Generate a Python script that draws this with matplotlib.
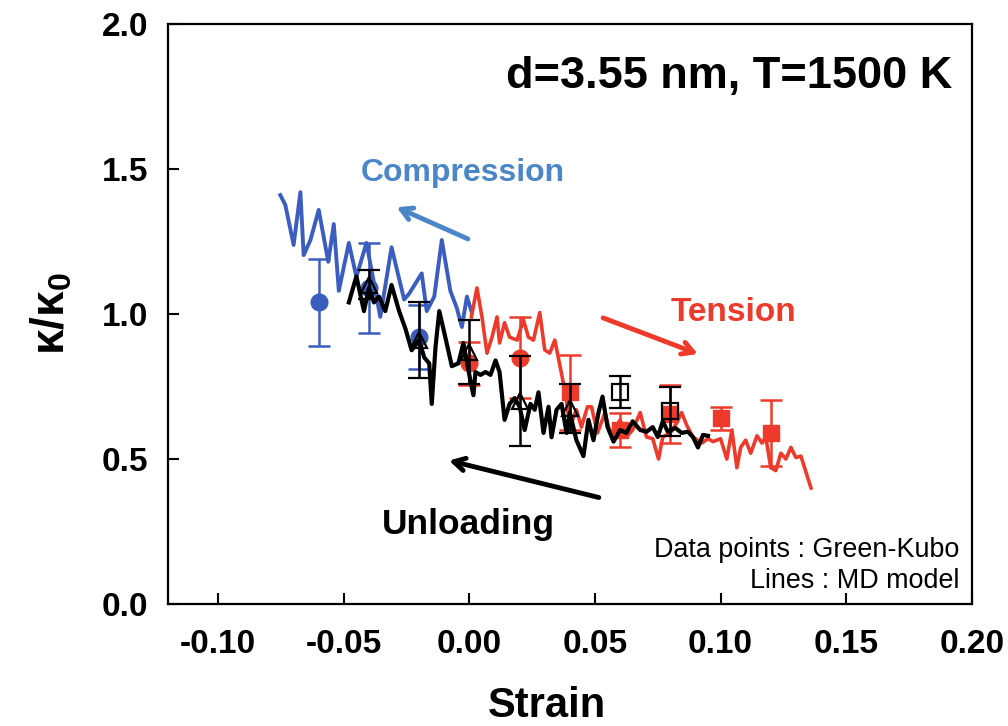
import matplotlib
matplotlib.use("Agg")
import matplotlib.pyplot as plt

plt.rcParams['font.family'] = ['Liberation Sans', 'DejaVu Sans']
plt.rcParams['mathtext.fontset'] = 'custom'
plt.rcParams['mathtext.bf'] = 'Liberation Sans:bold'
plt.rcParams['mathtext.rm'] = 'Liberation Sans'

# MD model lines (strain, kappa/kappa0)
comp_x = [-0.0753, -0.0733, -0.070, -0.0673, -0.066, -0.0633, -0.060, -0.0562, -0.054, -0.052,
          -0.048, -0.045, -0.041, -0.0355, -0.031, -0.026, -0.024, -0.019, -0.017, -0.014,
          -0.011, -0.0076, -0.005, -0.003, -0.001, 0.0008]
comp_y = [1.41, 1.376, 1.238, 1.42, 1.203, 1.255, 1.359, 1.18, 1.31, 1.08,
          1.245, 1.128, 1.245, 0.99, 1.23, 1.05, 1.07, 1.14, 1.01, 1.06,
          1.255, 1.08, 1.02, 0.955, 1.06, 1.01]

tens_x = [0.0008, 0.003, 0.005, 0.007, 0.009, 0.011, 0.012, 0.014, 0.016, 0.019,
          0.0215, 0.0235, 0.0255, 0.028, 0.030, 0.032, 0.034, 0.037, 0.0387, 0.040,
          0.0426, 0.0446, 0.047, 0.0486, 0.051, 0.054, 0.056, 0.058, 0.060, 0.0625,
          0.065, 0.068, 0.0705, 0.073, 0.0753, 0.077, 0.080, 0.0825, 0.0845, 0.0865,
          0.089, 0.0925, 0.095, 0.097, 0.100, 0.1025, 0.1045, 0.1065, 0.108, 0.110,
          0.112, 0.1145, 0.1165, 0.118, 0.120, 0.122, 0.124, 0.126, 0.128, 0.130,
          0.132, 0.136]
tens_y = [0.99, 1.09, 0.99, 0.865, 0.92, 0.99, 0.90, 0.97, 0.92, 0.91,
          0.98, 0.92, 0.91, 1.005, 0.876, 0.865, 0.91, 0.78, 0.70, 0.61,
          0.67, 0.61, 0.68, 0.68, 0.59, 0.66, 0.59, 0.605, 0.635, 0.576,
          0.60, 0.66, 0.576, 0.57, 0.50, 0.576, 0.59, 0.624, 0.66, 0.617,
          0.576, 0.555, 0.57, 0.56, 0.57, 0.50, 0.60, 0.47, 0.54, 0.565,
          0.52, 0.58, 0.555, 0.576, 0.47, 0.46, 0.52, 0.50, 0.54, 0.505,
          0.51, 0.40]

unl_x = [-0.048, -0.045, -0.042, -0.040, -0.038, -0.036, -0.0335, -0.031, -0.028, -0.0255,
         -0.023, -0.020, -0.018, -0.016, -0.015, -0.0135, -0.012, -0.0096, -0.007, -0.0044,
         -0.0024, 0.0004, 0.0016, 0.0024, 0.0044, 0.0064, 0.0084, 0.0104, 0.012, 0.014,
         0.016, 0.018, 0.020, 0.022, 0.0243, 0.026, 0.0275, 0.0295, 0.0315, 0.0327,
         0.0347, 0.0367, 0.0387, 0.040, 0.0426, 0.0454, 0.0474, 0.0494, 0.0514, 0.053,
         0.055, 0.0574, 0.060, 0.0625, 0.065, 0.068, 0.0705, 0.073, 0.075, 0.077,
         0.079, 0.082, 0.0845, 0.087, 0.089, 0.091, 0.093, 0.095]
unl_y = [1.04, 1.13, 1.01, 1.09, 1.04, 1.06, 1.01, 1.10, 1.01, 0.95,
         0.875, 0.91, 0.85, 0.83, 0.69, 0.886, 1.01, 0.92, 0.82, 0.83,
         0.90, 0.77, 0.72, 0.80, 0.79, 0.80, 0.79, 0.84, 0.80, 0.635,
         0.69, 0.71, 0.68, 0.60, 0.69, 0.67, 0.73, 0.59, 0.68, 0.575,
         0.67, 0.69, 0.59, 0.66, 0.565, 0.51, 0.635, 0.565, 0.66, 0.715,
         0.61, 0.56, 0.60, 0.59, 0.63, 0.60, 0.594, 0.61, 0.576, 0.63,
         0.594, 0.607, 0.59, 0.594, 0.576, 0.54, 0.583, 0.58]

# Green-Kubo data points
gk_comp_x = [-0.06, -0.04, -0.02]
gk_comp_y = [1.04, 1.09, 0.92]
gk_comp_err = [0.15, 0.155, 0.11]

gk_tens_circ_x = [0.00, 0.02]
gk_tens_circ_y = [0.83, 0.85]
gk_tens_circ_err = [0.075, 0.14]
gk_tens_sq_x = [0.04, 0.06, 0.08, 0.10, 0.12]
gk_tens_sq_y = [0.73, 0.60, 0.655, 0.64, 0.59]
gk_tens_sq_err = [0.13, 0.06, 0.10, 0.04, 0.115]

gk_unl_tri_x = [-0.04, -0.02, 0.00, 0.02, 0.04]
gk_unl_tri_y = [1.10, 0.91, 0.87, 0.70, 0.675]
gk_unl_tri_err = [0.05, 0.13, 0.11, 0.155, 0.085]
gk_unl_sq_x = [0.06, 0.08]
gk_unl_sq_y = [0.73, 0.665]
gk_unl_sq_err = [0.055, 0.085]

blue = '#3a5dbf'
blue_txt = '#4a86c8'
red = '#ee3a2a'

fig = plt.figure(figsize=(10.08, 7.26), dpi=100)
ax = fig.add_axes([0.1667, 0.168, 0.7973, 0.799])

eb = dict(capsize=8, elinewidth=1.8, capthick=1.8, linestyle='none', markersize=12)
ax.errorbar(gk_comp_x, gk_comp_y, yerr=gk_comp_err, color=blue, marker='o', zorder=2, **eb)
ax.errorbar(gk_tens_circ_x, gk_tens_circ_y, yerr=gk_tens_circ_err, color=red, marker='o', zorder=2, **eb)
ax.errorbar(gk_tens_sq_x, gk_tens_sq_y, yerr=gk_tens_sq_err, color=red, marker='s', zorder=2, **eb)

ax.plot(comp_x, comp_y, color=blue, lw=2.8, zorder=3)
ax.plot(tens_x, tens_y, color=red, lw=2.6, zorder=3)
ax.plot(unl_x, unl_y, color='black', lw=3.0, zorder=4)

eb2 = dict(capsize=8, elinewidth=1.8, capthick=1.8, linestyle='none', markersize=11,
           mfc='none', mew=1.6)
ax.errorbar(gk_unl_tri_x, gk_unl_tri_y, yerr=gk_unl_tri_err, color='black', marker='^', zorder=5, **eb2)
ax.errorbar(gk_unl_sq_x, gk_unl_sq_y, yerr=gk_unl_sq_err, color='black', marker='s', zorder=5, **eb2)

ax.set_xlim(-0.12, 0.20)
ax.set_ylim(0, 2.0)
ax.set_xticks([-0.10, -0.05, 0.00, 0.05, 0.10, 0.15, 0.20])
ax.set_xticklabels(['-0.10', '-0.05', '0.00', '0.05', '0.10', '0.15', '0.20'])
ax.set_yticks([0.0, 0.5, 1.0, 1.5, 2.0])
ax.set_yticklabels(['0.0', '0.5', '1.0', '1.5', '2.0'])
ax.tick_params(direction='in', length=8, width=1.5, labelsize=24)
ax.tick_params(axis='x', pad=18)
ax.tick_params(axis='y', pad=14)
for lab in ax.get_xticklabels() + ax.get_yticklabels():
    lab.set_fontweight('bold')
for s in ax.spines.values():
    s.set_linewidth(1.6)

ax.set_xlabel('Strain', fontsize=30, fontweight='bold', va='center')
ax.xaxis.set_label_coords(0.472, -0.175)
ax.set_ylabel(r'$\mathbf{\kappa/\kappa_0}$', fontsize=33)
ax.yaxis.set_label_coords(-0.117, 0.5)

ax.text(0.976, 0.945, 'd=3.55 nm, T=1500 K', transform=ax.transAxes, ha='right', va='top',
        fontsize=32.5, fontweight='bold')
ax.text(-0.0025, 1.485, 'Compression', color=blue_txt, fontsize=23, fontweight='bold', ha='center', va='center')
ax.text(0.105, 1.005, 'Tension', color=red, fontsize=24, fontweight='bold', ha='center', va='center')
ax.text(-0.0005, 0.275, 'Unloading', color='black', fontsize=25.5, fontweight='bold', ha='center', va='center')
ax.text(0.985, 0.093, 'Data points : Green-Kubo', transform=ax.transAxes, ha='right', va='center', fontsize=19.4)
ax.text(0.985, 0.040, 'Lines : MD model', transform=ax.transAxes, ha='right', va='center', fontsize=19.4)

arr = dict(arrowstyle='->,head_length=0.8,head_width=0.45', lw=3.5)
ax.annotate('', xy=(-0.030, 1.372), xytext=(0.0004, 1.255), arrowprops=dict(color=blue_txt, **arr))
ax.annotate('', xy=(0.0920, 0.859), xytext=(0.0522, 0.990), arrowprops=dict(color=red, **arr))
ax.annotate('', xy=(-0.0092, 0.497), xytext=(0.0526, 0.365), arrowprops=dict(color='black', **arr))

fig.savefig('out.png', dpi=100)
